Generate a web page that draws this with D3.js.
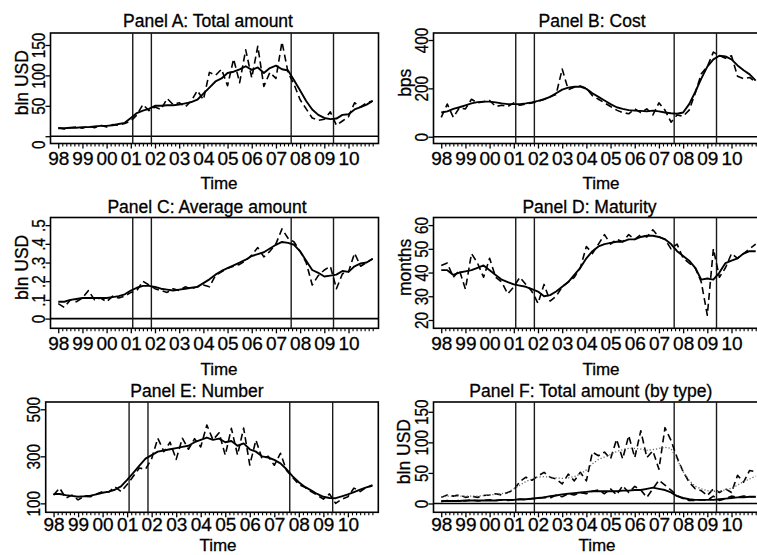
<!DOCTYPE html>
<html><head><meta charset="utf-8">
<script src="https://cdn.jsdelivr.net/npm/d3@7"></script>
<style>
body{margin:0;background:#fff}
svg{display:block}
text{font-family:"Liberation Sans",Arial,Helvetica,sans-serif;fill:#000;stroke:#000;stroke-width:0.3px}
</style>
</head><body>
<svg id="chart" width="757" height="555"></svg>
<script>
// ---------------- DATA ----------------
const quarters = [
 "1998Q1","1998Q2","1998Q3","1998Q4","1999Q1","1999Q2","1999Q3","1999Q4",
 "2000Q1","2000Q2","2000Q3","2000Q4","2001Q1","2001Q2","2001Q3","2001Q4",
 "2002Q1","2002Q2","2002Q3","2002Q4","2003Q1","2003Q2","2003Q3","2003Q4",
 "2004Q1","2004Q2","2004Q3","2004Q4","2005Q1","2005Q2","2005Q3","2005Q4",
 "2006Q1","2006Q2","2006Q3","2006Q4","2007Q1","2007Q2","2007Q3","2007Q4",
 "2008Q1","2008Q2","2008Q3","2008Q4","2009Q1","2009Q2","2009Q3","2009Q4",
 "2010Q1","2010Q2","2010Q3","2010Q4","2011Q1"];
const eventDates = [2001.08, 2001.85, 2007.63, 2009.38];
const tickYears = [1998,1999,2000,2001,2002,2003,2004,2005,2006,2007,2008,2009,2010];

// Panel A: Total amount (bln USD)
const totalRaw = [14,12,14,15,13,17,14,18,15,19, 18,21,25,35,52,42,48,44,62,52,
  55,48,58,75,60,105,100,110,83,127, 88,142,96,148,82,105,95,155,105,85,
  60,45,30,26,28,40,18,25,32,55, 48,55,58];
const totalSmooth = [13,13,14,14,15,15,16,17,17,18, 20,22,30,38,42,45,50,50,51,51,
  52,54,56,60,70,80,90,95,104,106, 110,115,109,113,104,112,116,110,108,92,
  75,58,44,35,30,28,29,35,36,44, 48,52,58];
// Panel B: Cost (bps)
const costRaw = [80,135,80,120,115,155,140,145,150,125, 130,125,140,130,135,140,145,155,165,175,
  280,195,205,210,200,170,155,140,125,110, 100,95,115,100,115,90,140,110,60,90,
  85,110,180,260,290,350,335,325,335,250, 240,245,225];
const costSmooth = [100,105,115,122,130,138,143,145,145,142, 138,135,135,135,138,142,148,155,165,180,
  195,203,207,207,198,180,165,150,135,122, 115,110,108,107,105,108,105,100,97,95,
  100,135,185,240,290,320,335,332,320,295, 275,258,232];
// Panel C: Average amount (bln USD)
const avgRaw = [0.08,0.06,0.10,0.09,0.11,0.15,0.10,0.11,0.09,0.12, 0.11,0.12,0.14,0.15,0.20,0.18,0.16,0.15,0.14,0.16,
  0.15,0.17,0.16,0.17,0.18,0.17,0.23,0.25,0.27,0.28, 0.29,0.31,0.34,0.38,0.33,0.36,0.40,0.48,0.43,0.41,
  0.36,0.30,0.18,0.23,0.26,0.28,0.16,0.24,0.25,0.35, 0.28,0.30,0.32];
const avgSmooth = [0.09,0.09,0.10,0.105,0.11,0.11,0.11,0.11,0.11,0.115, 0.12,0.13,0.15,0.165,0.175,0.175,0.17,0.16,0.155,0.15,
  0.155,0.16,0.165,0.17,0.19,0.21,0.235,0.255,0.27,0.285, 0.30,0.315,0.335,0.345,0.355,0.375,0.395,0.41,0.405,0.395,
  0.36,0.31,0.26,0.245,0.225,0.23,0.235,0.255,0.25,0.28, 0.295,0.30,0.32];
// Panel D: Maturity (months)
const matRaw = [43,44,38,41,33,48,44,38,46,38, 36,31,34,38,35,32,27,35,28,30,
  34,36,38,42,51,48,52,56,52,54, 53,56,54,56,55,58,55,54,50,52,
  46,44,42,36,22,50,38,42,48,46, 48,50,52];
const matSmooth = [41,41,39,40,40.5,41,42,43,41,39, 37,36,35,34.5,34,33,32,30,30.5,32,
  34,36,39,42,46,49,51,52,52.5,53, 53,54,54,55,55.5,55.5,55,54,52,49,
  47,45,42,37,37.5,37,40,44,45,46, 48,49,49];
// Panel E: Number
const numRaw = [135,165,122,135,115,130,128,140,150,148, 170,150,180,215,250,245,290,377,320,360,
  287,377,330,375,340,433,370,400,305,419, 306,420,263,369,290,300,262,313,240,210,
  180,168,150,135,118,140,100,118,128,165, 150,168,178];
const numSmooth = [140,140,135,132,128,130,133,138,145,150, 158,172,200,230,260,290,305,320,325,330,
  335,340,345,360,370,380,370,375,360,365, 345,355,330,320,300,295,285,270,245,215,
  190,170,155,140,128,123,122,130,138,148, 158,168,175];
// Panel F: Total amount by type (bln USD)
const typeARaw = [10,14,12,14,10,12,10,13,14,16, 14,18,22,36,43,38,45,51,43,40,
  32,48,37,51,37,84,78,84,73,105, 73,111,75,119,75,86,56,124,103,75,
  52,35,24,21,13,24,18,24,18,46, 35,54,52];
const typeASmooth = [11,12,12,12,12,12,12,13,14,15, 16,18,24,30,36,40,43,44,43,42,
  41,42,44,48,55,65,72,76,80,85, 88,90,90,89,87,88,90,92,90,72,
  52,38,28,24,21,20,20,22,25,30, 36,40,45];
const typeBRaw = [3,5,4,5,4,6,4,5,6,5, 6,5,6,7,6,8,8,10,9,14,
  11,16,14,18,16,20,22,16,24,14, 29,18,28,22,10,24,38,30,22,13,
  8,5,5,6,5,12,5,8,12,10, 12,11,11];
const typeBSmooth = [4,4,4,4,5,5,5,5,5,5, 6,6,6,7,7,8,9,10,12,13,
  15,16,17,18,19,20,20,20,20,20, 21,21,22,22,24,26,24,22,18,12,
  9,7,6,6,6,6,7,8,9,10, 10,11,11];

// ---------------- LAYOUT ----------------
const t = quarters.map(q => +q.slice(0,4) + (+q[5]-1)/4);
const xDomain = [1997.68, 2011.24];
const minorTicks = [];
tickYears.forEach(yr => { for (let k = 1; k <= 5; k++) minorTicks.push(yr + k/6); });
minorTicks.push(2011);

const rows = [
  {top:33,   bottom:143.5, title:27,    lab:165.3, time:189},
  {top:217.5,bottom:328.3, title:212.5, lab:350,   time:375},
  {top:402,  bottom:512.3, title:397,   lab:531.5, time:551.3}
];
const decFmt = v => v === 0 ? "0" : String(v).replace(/^0\./, ".");
const panels = [
  {row:0, x0:50.5, w:328, title:"Panel A: Total amount", tx:208, timeX:219, ytitle:"bln USD", ytx:28,
   yd:[-12,169.7], yt:[0,50,100,150], fmt:String, zero:true, zeroShift:8,
   series:[{v:totalRaw, s:"dash"},{v:totalSmooth, s:"solid"}]},
  {row:0, x0:433.5, w:328, title:"Panel B: Cost", tx:592, timeX:601, ytitle:"bps", ytx:410.5,
   yd:[-28,429], yt:[0,200,400], fmt:String, zero:true,
   series:[{v:costRaw, s:"dash"},{v:costSmooth, s:"solid"}]},
  {row:1, x0:50.5, w:328, title:"Panel C: Average amount", tx:207, timeX:219, ytitle:"bln USD", ytx:28.3,
   yd:[-0.052,0.541], yt:[0,0.1,0.2,0.3,0.4,0.5], fmt:decFmt, zero:true,
   series:[{v:avgRaw, s:"dash"},{v:avgSmooth, s:"solid"}]},
  {row:1, x0:433.5, w:328, title:"Panel D: Maturity", tx:589.5, timeX:601, ytitle:"months", ytx:410.7,
   yd:[16.5,63.2], yt:[20,30,40,50,60], fmt:String, zero:false,
   series:[{v:matRaw, s:"dash"},{v:matSmooth, s:"solid"}]},
  {row:2, x0:45.7, w:332.6, title:"Panel E: Number", tx:197, timeX:218, ytitle:null,
   yd:[62,531], yt:[100,300,500], fmt:String, zero:false,
   series:[{v:numRaw, s:"dash"},{v:numSmooth, s:"solid"}]},
  {row:2, x0:433.5, w:328, title:"Panel F: Total amount (by type)", tx:590.8, timeX:597, ytitle:"bln USD", ytx:409.7,
   yd:[-14.4,166], yt:[0,50,100,150], fmt:String, zero:true,
   series:[{v:typeARaw, s:"dash"},{v:typeASmooth, s:"dot"},{v:typeBRaw, s:"dash"},{v:typeBSmooth, s:"solid"}]}
];

const svg = d3.select("#chart");
svg.append("rect").attr("width",757).attr("height",555).attr("fill","#fff");

panels.forEach(p => {
  const r = rows[p.row];
  const g = svg.append("g");
  const x = d3.scaleLinear().domain(xDomain).range([p.x0, p.x0 + p.w]);
  const y = d3.scaleLinear().domain(p.yd).range([r.bottom, r.top]);

  // title
  g.append("text").attr("x", p.tx).attr("y", r.title).attr("text-anchor","middle")
    .style("font-size","17.5px").text(p.title);

  // x axis major
  const xa = g.append("g").attr("transform",`translate(0,${r.bottom})`)
    .call(d3.axisBottom(x).tickValues(tickYears).tickFormat(d => String(d).slice(2)).tickSize(5).tickSizeOuter(0));
  xa.select(".domain").remove();
  xa.selectAll("line").attr("stroke","#000").attr("stroke-width",1.3);
  xa.selectAll("text").attr("y", r.lab - r.bottom).attr("dy",0)
    .style("font-size","19px").attr("fill","#000");
  // x axis minor
  const xm = g.append("g").attr("transform",`translate(0,${r.bottom})`)
    .call(d3.axisBottom(x).tickValues(minorTicks).tickFormat("").tickSize(3).tickSizeOuter(0));
  xm.select(".domain").remove();
  xm.selectAll("line").attr("stroke","#000").attr("stroke-width",1.1);

  // y axis
  const ya = g.append("g").attr("transform",`translate(${p.x0},0)`)
    .call(d3.axisLeft(y).tickValues(p.yt).tickFormat(p.fmt).tickSize(5).tickSizeOuter(0));
  ya.select(".domain").remove();
  ya.selectAll("line").attr("stroke","#000").attr("stroke-width",1.3);
  ya.selectAll("text").attr("x",0).attr("dy",0).attr("text-anchor","middle")
    .style("font-size","18px").attr("fill","#000")
    .attr("transform", d => `translate(-6,${(p.zeroShift && d === 0) ? p.zeroShift : 0}) rotate(-90) scale(0.85,1)`);

  // y title
  if (p.ytitle) {
    const cy = (r.top + r.bottom)/2 - 5.5;
    g.append("text").attr("transform",`translate(${p.ytx},${cy}) rotate(-90)`)
      .attr("text-anchor","middle").style("font-size","17.5px").text(p.ytitle);
  }

  // Time label
  g.append("text").attr("x", p.timeX).attr("y", r.time).attr("text-anchor","middle")
    .style("font-size","17px").text("Time");

  // plot box
  g.append("rect").attr("x", p.x0).attr("y", r.top).attr("width", p.w).attr("height", r.bottom - r.top)
    .attr("fill","none").attr("stroke","#000").attr("stroke-width",1.6);

  // zero line
  if (p.zero) {
    g.append("line").attr("x1", p.x0).attr("x2", p.x0 + p.w).attr("y1", y(0)).attr("y2", y(0))
      .attr("stroke","#000").attr("stroke-width",1.6);
  }

  // event lines
  g.selectAll(".ev").data(eventDates).enter().append("line")
    .attr("x1", d => x(d)).attr("x2", d => x(d)).attr("y1", r.top).attr("y2", r.bottom)
    .attr("stroke","#1a1a1a").attr("stroke-width",1.4);

  // series
  const line = d3.line().x((d,i) => x(t[i])).y(d => y(d));
  p.series.forEach(s => {
    const path = g.append("path").datum(s.v).attr("d", line).attr("fill","none")
      .attr("stroke-linejoin","round");
    if (s.s === "solid") path.attr("stroke","#000").attr("stroke-width",1.9);
    else if (s.s === "dash") path.attr("stroke","#000").attr("stroke-width",1.6).attr("stroke-dasharray","7,4");
    else path.attr("stroke","#666").attr("stroke-width",1.3).attr("stroke-dasharray","1.2,2");
  });
});
</script>
</body></html>
